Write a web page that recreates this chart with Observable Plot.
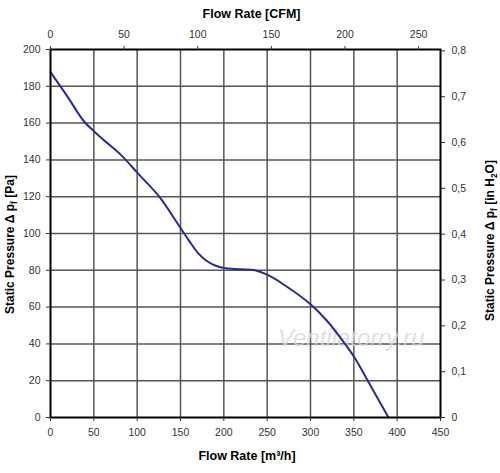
<!DOCTYPE html>
<html><head><meta charset="utf-8">
<script src="https://cdn.jsdelivr.net/npm/d3@7"></script>
<script src="https://cdn.jsdelivr.net/npm/@observablehq/plot@0.6"></script>
<style>body{margin:0;background:#fff}</style>
</head><body><div id="chart"></div>
<script>
// Fan curve: flow rate (m³/h) vs static pressure (Pa)
const flow     = [0, 19, 38.5, 51, 62, 81.5, 100.6, 125.5, 150, 160, 170, 180, 190, 200, 220, 236, 250, 269, 300, 319, 340, 352, 365, 390];
const pressure = [187.7, 174.8, 161, 155.2, 150.6, 142.6, 132.8, 120, 103, 96, 89.5, 85.2, 82.6, 81.2, 80.6, 80, 77.6, 72.3, 61.6, 52.6, 39.9, 31.7, 20.9, 0];

const xTicks = [0, 50, 100, 150, 200, 250, 300, 350, 400, 450];
const yTicks = [0, 20, 40, 60, 80, 100, 120, 140, 160, 180, 200];
const cfmTicks = [0, 50, 100, 150, 200, 250];
const inH2OTicks = [0, 0.1, 0.2, 0.3, 0.4, 0.5, 0.6, 0.7, 0.8];

const M3H_PER_CFM = 1.699011;
const PA_PER_INH2O = 249.089;

const data = flow.map((q, i) => ({q, p: pressure[i]}));
const font = "Liberation Sans, Arial, sans-serif";

const chart = Plot.plot({
  width: 500,
  height: 473,
  marginTop: 49,
  marginBottom: 56,
  marginLeft: 50,
  marginRight: 60,
  style: {fontFamily: font, background: "#fff", color: "#000"},
  x: {domain: [0, 450]},
  y: {domain: [0, 200]},
  marks: [
    Plot.gridX(xTicks.slice(1, -1), {stroke: "#555", strokeWidth: 1.5, strokeOpacity: 1}),
    Plot.gridY(yTicks.slice(1, -1), {stroke: "#555", strokeWidth: 1.5, strokeOpacity: 1}),
    Plot.text(["Ventilatorry.ru"], {x: 347, y: 42.8, fill: "#d8d8d8", fillOpacity: 0.8, fontSize: 24, fontStyle: "italic", fontFamily: font}),
    Plot.line(data, {x: "q", y: "p", curve: "catmull-rom", stroke: "#2a2a96", strokeWidth: 2}),
    Plot.frame({stroke: "#000", strokeWidth: 2}),
    Plot.axisX(xTicks, {anchor: "bottom", tickSize: 4, tickPadding: 7, fontSize: 10.5, color: "#333", label: null}),
    Plot.axisY(yTicks, {anchor: "left", tickSize: 4, tickPadding: 6, fontSize: 10.5, color: "#333", label: null}),
    Plot.axisX(cfmTicks.map(c => c * M3H_PER_CFM), {anchor: "top", tickSize: 4, tickPadding: 8, fontSize: 10.5, color: "#333", label: null,
      tickFormat: d => String(Math.round(d / M3H_PER_CFM))}),
    Plot.axisY(inH2OTicks.map(v => v * PA_PER_INH2O), {anchor: "right", tickSize: 4, tickPadding: 7, fontSize: 10.5, color: "#333", label: null,
      tickFormat: d => { const v = Math.round(d / PA_PER_INH2O * 10) / 10; return v === 0 ? "0" : v.toFixed(1).replace(".", ","); }}),
    Plot.text(["Flow Rate [CFM]"], {frameAnchor: "top", dx: 6, dy: -36, fontSize: 12.5, fontWeight: "bold", fill: "#000", lineAnchor: "middle", textAnchor: "middle"}),
    Plot.text(["Flow Rate [m³/h]"], {frameAnchor: "bottom", dx: 1.5, dy: 38, fontSize: 12.5, fontWeight: "bold", fill: "#000", lineAnchor: "middle", textAnchor: "middle"}),
    Plot.text(["Static Pressure Δ pf [Pa]"], {frameAnchor: "left", dx: -40, dy: 11, rotate: -90, fontSize: 12, fontWeight: "bold", fill: "#000", lineAnchor: "middle", textAnchor: "middle"}),
    Plot.text(["Static Pressure Δ pf [in H2O]"], {frameAnchor: "right", dx: 50, dy: 7, rotate: -90, fontSize: 12, fontWeight: "bold", fill: "#000", lineAnchor: "middle", textAnchor: "middle"})
  ]
});

// subscripts in axis titles
d3.select(chart).selectAll("text").each(function () {
  const t = this.textContent;
  if (t === "Static Pressure Δ pf [Pa]") {
    this.innerHTML = 'Static Pressure Δ p<tspan dy="3" font-size="0.7em">f</tspan><tspan dy="-3"> [Pa]</tspan>';
  } else if (t === "Static Pressure Δ pf [in H2O]") {
    this.innerHTML = 'Static Pressure Δ p<tspan dy="3" font-size="0.7em">f</tspan><tspan dy="-3"> [in H</tspan><tspan dy="3" font-size="0.7em">2</tspan><tspan dy="-3">O]</tspan>';
  }
});

document.getElementById("chart").appendChild(chart);
</script>
</body></html>
